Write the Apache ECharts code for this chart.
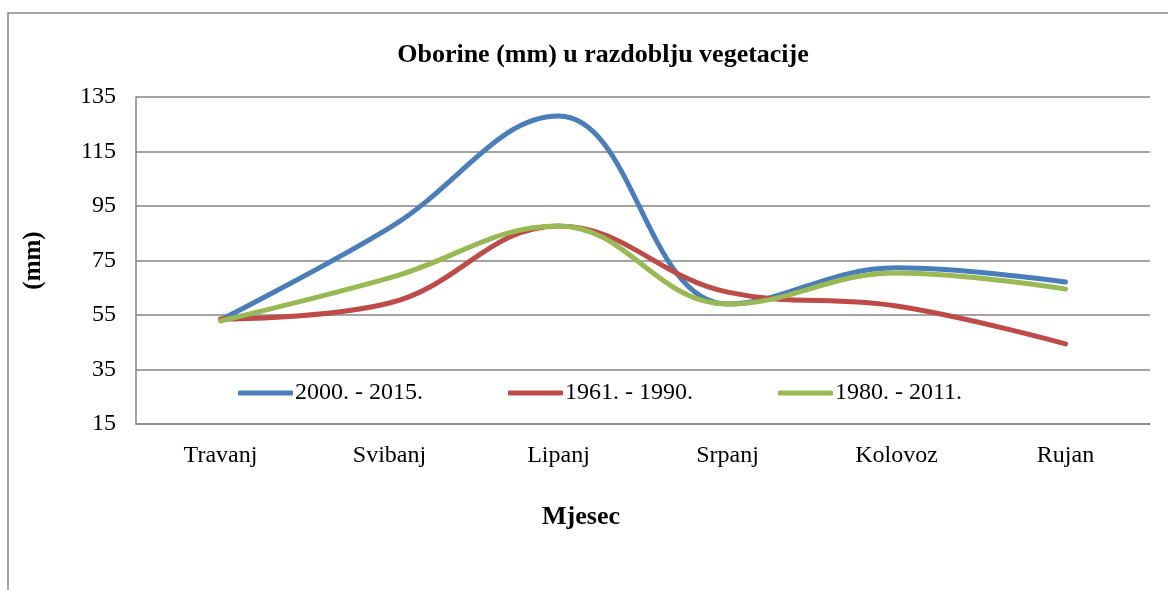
<!DOCTYPE html>
<html>
<head>
<meta charset="utf-8">
<script src="https://cdn.jsdelivr.net/npm/echarts@6/dist/echarts.min.js"></script>
<style>
  html, body {margin: 0; padding: 0; background: #fff;}
  #chart {width: 1168px; height: 590px;}
</style>
</head>
<body>
<div id="chart"></div>
<script>
// data
const months = ['Travanj', 'Svibanj', 'Lipanj', 'Srpanj', 'Kolovoz', 'Rujan'];
const names = ['2000. - 2015.', '1961. - 1990.', '1980. - 2011.'];
const p2000_2015 = [53.2, 87, 128, 59, 72.3, 67.1];
const p1961_1990 = [53.5, 59.4, 87.7, 63.4, 58.3, 44.4];
const p1980_2011 = [52.8, 68.6, 87.7, 59, 70.4, 64.5];
const yTicks = [15, 35, 55, 75, 95, 115, 135];
const color_ls = ['#4A7EBB', '#BE4B48', '#98B954'];

const font = 'Times New Roman, Liberation Serif, serif';
const values = [p2000_2015, p1961_1990, p1980_2011];

var chartDom = document.getElementById('chart');
var myChart = echarts.init(chartDom);

var series = [];
for (let i = 0; i < values.length; i++) {
  series.push({
    name: names[i], type: 'line', data: values[i], smooth: 0.4,
    showSymbol: false, symbol: 'none',
    lineStyle: {color: color_ls[i], width: 5, cap: 'round'},
    itemStyle: {color: color_ls[i]}
  });
}

var option = {
  animation: false,
  backgroundColor: '#fff',
  title: {
    text: 'Oborine (mm) u razdoblju vegetacije',
    left: 598, top: 37, textAlign: 'center',
    textStyle: {fontFamily: font, fontSize: 26, fontWeight: 'bold', color: '#000'}
  },
  graphic: [
    {type: 'rect', shape: {x: 8, y: 13, width: 1170, height: 600},
     style: {fill: 'none', stroke: '#868686', lineWidth: 1.5}, z: -1},
    {type: 'text', x: 581, y: 517,
     style: {text: 'Mjesec', fontFamily: font, fontSize: 26, fontWeight: 'bold', fill: '#000',
             align: 'center', verticalAlign: 'middle'}}
  ],
  legend: {
    data: names, left: 233, top: 376, itemWidth: 55, itemHeight: 5, itemGap: 85,
    icon: 'roundRect',
    textStyle: {fontFamily: font, fontSize: 24, color: '#000', padding: [0, 0, 0, -3]}
  },
  grid: {left: 136, right: 18, top: 97, bottom: 166},
  xAxis: {
    type: 'category', data: months, boundaryGap: true,
    axisLine: {lineStyle: {color: '#868686', width: 1.5}},
    axisTick: {show: false},
    axisLabel: {fontFamily: font, fontSize: 24, color: '#000', margin: 20}
  },
  yAxis: {
    type: 'value', min: yTicks[0], max: yTicks[yTicks.length - 1], interval: 20,
    name: '(mm)', nameLocation: 'center', nameGap: 90, nameRotate: 90,
    nameTextStyle: {fontFamily: font, fontSize: 25, fontWeight: 'bold', color: '#000'},
    axisLine: {show: true, lineStyle: {color: '#868686', width: 1.5}},
    axisTick: {show: false},
    axisLabel: {fontFamily: font, fontSize: 24, color: '#000', margin: 20},
    splitLine: {lineStyle: {color: '#868686', width: 1.5}}
  },
  series: series
};

option && myChart.setOption(option);
</script>
</body>
</html>
